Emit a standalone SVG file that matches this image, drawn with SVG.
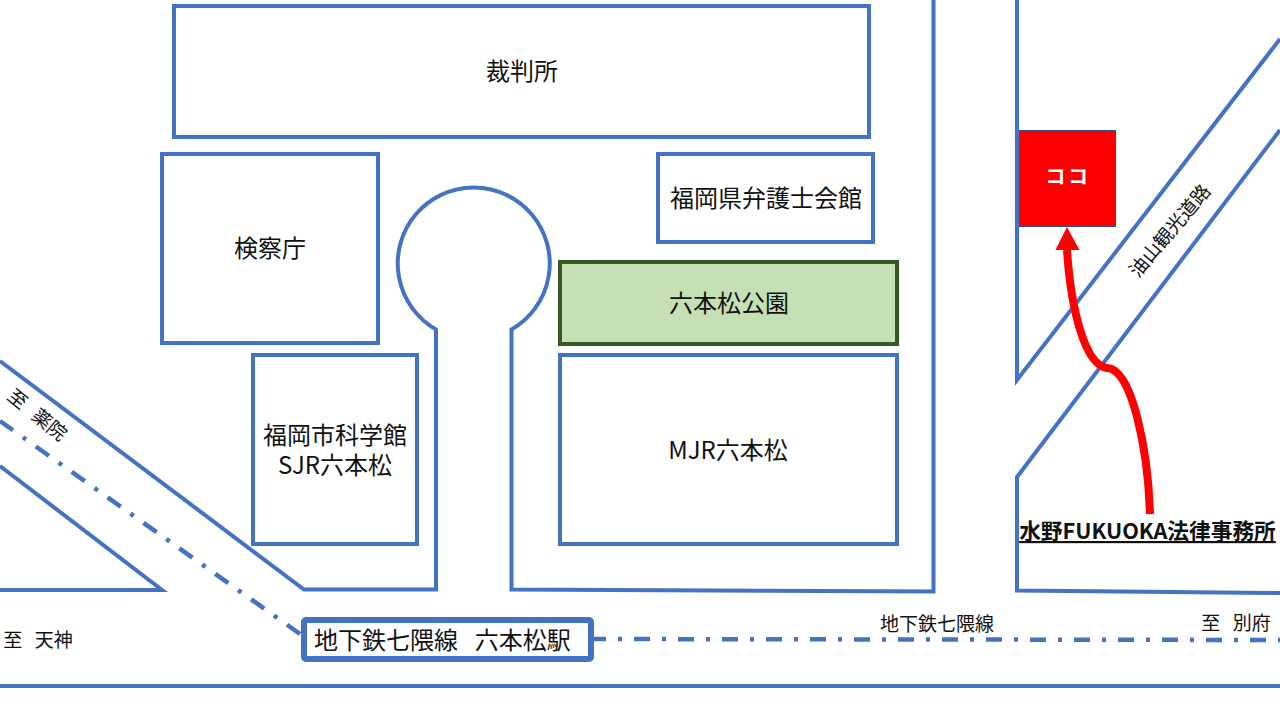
<svg xmlns="http://www.w3.org/2000/svg" width="1280" height="720" viewBox="0 0 1280 720">
<style>
.b{fill:#fff;stroke:#4472c4;stroke-width:4}
.r{fill:none;stroke:#4472c4;stroke-width:4}
.dd{fill:none;stroke:#4472c4;stroke-width:4.500;stroke-dasharray:16 12 4 12}
text{font-family:"Noto Sans CJK JP","Noto Sans",sans-serif;fill:#111;text-anchor:middle}
.t{font-size:24px}
.s{font-size:19px;word-spacing:2px}
</style>
<rect width="1280" height="720" fill="#fff"/>
<g id="connectors">
<path class="r" d="M933.500,0V591.500L511.500,589.500V329.500A76,76 0 1 0 436,329.500V589.500H304L0,361"/>
<path class="r" d="M0,466L162,590H0"/>
<path class="r" d="M1017,0V380L1280,39"/>
<path class="r" d="M1280,130L1017,477V590.500L1280,593"/>
<path class="r" d="M0,686H1280"/>
<path class="dd" d="M0,421L300,634"/>
<path class="dd" d="M590,639L1280,640"/>
<path d="M1150,514C1148,450 1132,368 1107,368C1085,365 1071,310 1067,250" fill="none" stroke="#f00" stroke-width="8"/>
<path d="M1067,227L1079.500,250H1055.500Z" fill="#f00"/>
</g>
<g id="court"><rect class="b" x="174" y="6" width="695" height="131"/><text class="t" x="522" y="80">裁判所</text></g>
<g id="bar"><rect class="b" x="658" y="154" width="215" height="88"/><text class="t" x="766" y="207">福岡県弁護士会館</text></g>
<g id="prosecutor"><rect class="b" x="162" y="154" width="216" height="189"/><text class="t" x="270" y="257">検察庁</text></g>
<g id="park"><rect x="560" y="262" width="337" height="82" fill="#c5e0b4" stroke="#385723" stroke-width="4"/><text class="t" x="729" y="312">六本松公園</text></g>
<g id="science"><rect class="b" x="253" y="355" width="164" height="189"/><text class="t"><tspan x="335" y="444">福岡市科学館</tspan><tspan x="335" y="474">SJR六本松</tspan></text></g>
<g id="mjr"><rect class="b" x="560" y="355" width="337" height="189"/><text class="t" x="728" y="459">MJR六本松</text></g>
<g id="here"><rect x="1019.500" y="130.500" width="96" height="96" fill="#f00" stroke="#2f528f" stroke-width="1"/><text x="1068" y="184" font-size="20" font-weight="700" letter-spacing="2.500" style="fill:#fff">ココ</text></g>
<g id="station"><rect x="304" y="620" width="287" height="39" rx="2" fill="#fff" stroke="#4472c4" stroke-width="6"/><text class="t" x="442.500" y="649" word-spacing="3" xml:space="preserve">地下鉄七隈線  六本松駅</text></g>
<g id="office"><text x="1147.500" y="539" font-size="21.700" font-weight="700" text-decoration="underline">水野FUKUOKA法律事務所</text></g>
<g id="labels">
<text class="s" x="937" y="631">地下鉄七隈線</text>
<text class="s" x="1236" y="630" xml:space="preserve">至  別府</text>
<text class="s" x="38" y="647" xml:space="preserve">至  天神</text>
<text class="s" transform="translate(33,420) rotate(39)" xml:space="preserve">至  薬院</text>
<text class="s" transform="translate(1175,235) rotate(-50)">油山観光道路</text>
</g>
</svg>
